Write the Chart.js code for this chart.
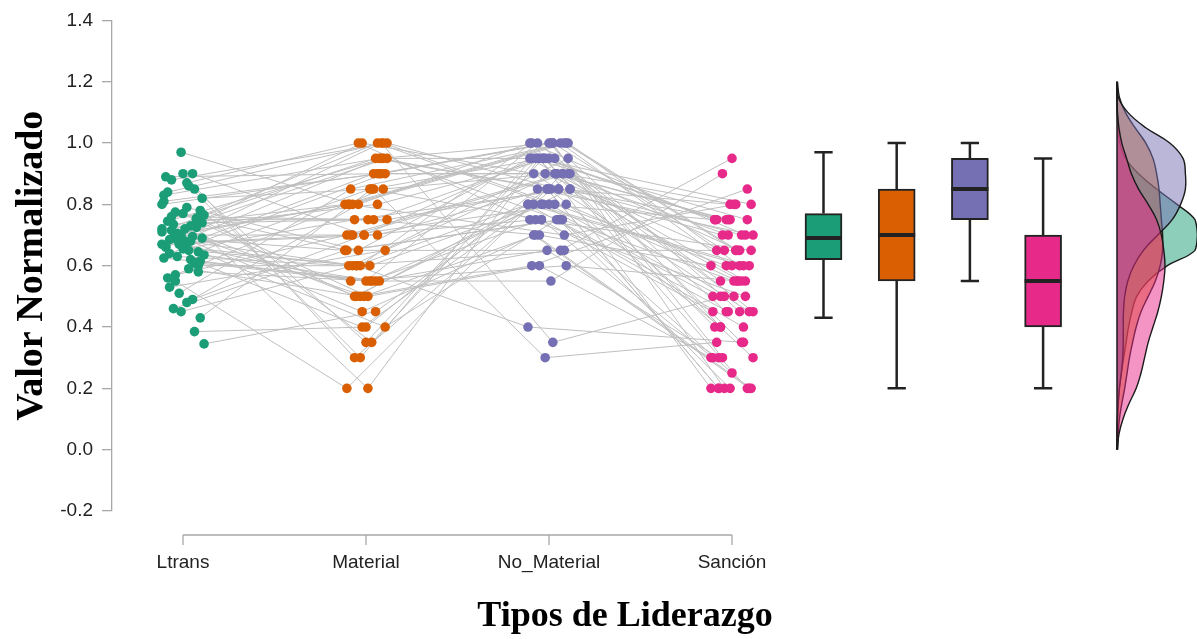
<!DOCTYPE html>
<html>
<head>
<meta charset="utf-8">
<title>Tipos de Liderazgo</title>
<script src="https://cdn.jsdelivr.net/npm/chart.js@4.4.1/dist/chart.umd.min.js"></script>
<style>
  html, body { margin: 0; padding: 0; background: #fff; }
  #wrap { width: 1197px; height: 639px; }
</style>
</head>
<body>
<div id="wrap"><canvas id="chart" width="1197" height="639"></canvas></div>
<script>
// ─── Data ───────────────────────────────────────────────────────────────
const categories = ['Ltrans', 'Material', 'No_Material', 'Sanción'];
const colors = ['#1b9e77', '#d95f02', '#7570b3', '#e7298a'];
const yTicks = [-0.2, 0.0, 0.2, 0.4, 0.6, 0.8, 1.0, 1.2, 1.4];

// one value per person, same order in every list (lines join them)
const ltrans = [
    0.72, 0.65, 0.88, 0.58, 0.70, 0.81, 0.62, 0.69, 0.43, 0.77,
    0.66, 0.90, 0.55, 0.74, 0.68, 0.84, 0.61, 0.705, 0.345, 0.79,
    0.64, 0.755, 0.51, 0.67, 0.86, 0.715, 0.60, 0.97, 0.625, 0.73,
    0.46, 0.78, 0.655, 0.89, 0.695, 0.57, 0.82, 0.66, 0.745, 0.385,
    0.70, 0.635, 0.87, 0.53, 0.725, 0.675, 0.80, 0.59, 0.76, 0.645,
    0.45, 0.83, 0.68, 0.735, 0.615, 0.90, 0.665, 0.49, 0.775, 0.69,
    0.72, 0.56, 0.85, 0.63, 0.765, 0.48, 0.685, 0.75, 0.67, 0.71
];
const material = [
    0.80, 0.60, 1.00, 0.55, 0.70, 0.90, 0.40, 0.65, 0.85, 0.50,
    0.95, 0.70, 0.20, 0.75, 0.60, 1.00, 0.55, 0.80, 0.45, 0.65,
    0.90, 0.50, 0.85, 0.70, 0.30, 0.95, 0.60, 0.80, 0.55, 1.00,
    0.65, 0.35, 0.75, 0.90, 0.50, 0.70, 0.85, 0.60, 0.95, 0.40,
    0.80, 0.55, 1.00, 0.65, 0.20, 0.70, 0.90, 0.50, 0.75, 0.85,
    0.60, 0.95, 0.45, 0.80, 0.55, 0.30, 1.00, 0.70, 0.65, 0.90,
    0.50, 0.85, 0.35, 0.60, 0.95, 0.80, 0.40, 0.75, 0.55, 1.00
];
const noMaterial = [
    0.95, 1.00, 0.85, 0.75, 0.90, 1.00, 0.80, 0.65, 0.95, 0.85,
    1.00, 0.75, 0.90, 0.95, 0.40, 0.80, 1.00, 0.70, 0.85, 0.95,
    0.90, 0.60, 1.00, 0.85, 0.95, 0.75, 0.80, 1.00, 0.55, 0.90,
    0.75, 0.95, 0.85, 1.00, 0.70, 0.90, 0.30, 0.80, 0.95, 0.85,
    1.00, 0.65, 0.75, 0.90, 0.95, 0.80, 1.00, 0.60, 0.85, 0.75,
    0.95, 0.85, 0.70, 1.00, 0.80, 0.90, 0.35, 0.95, 0.75, 0.90,
    0.80, 0.90, 0.95, 0.65, 0.85, 1.00, 0.75, 0.70, 0.60, 0.80
];
const sancion = [
    0.55, 0.20, 0.75, 0.45, 0.65, 0.30, 0.60, 0.95, 0.40, 0.70,
    0.20, 0.65, 0.50, 0.75, 0.35, 0.60, 0.45, 0.80, 0.20, 0.55,
    0.70, 0.30, 0.65, 0.40, 0.75, 0.20, 0.50, 0.60, 0.90, 0.45,
    0.25, 0.75, 0.55, 0.65, 0.20, 0.80, 0.35, 0.60, 0.45, 0.70,
    0.65, 0.30, 0.50, 0.75, 0.20, 0.55, 0.40, 0.85, 0.80, 0.30,
    0.45, 0.70, 0.20, 0.60, 0.75, 0.35, 0.50, 0.80, 0.55, 0.65,
    0.40, 0.75, 0.30, 0.65, 0.20, 0.70, 0.45, 0.60, 0.55, 0.50
];

// box plots (whisker ends, quartiles, median)
const boxLow = [0.43, 0.20, 0.55, 0.20];
const boxQ1 = [0.62, 0.55, 0.75, 0.40];
const boxMedian = [0.69, 0.70, 0.85, 0.55];
const boxQ3 = [0.77, 0.85, 0.95, 0.70];
const boxHigh = [0.97, 1.00, 1.00, 0.95];

// density ridges on the right, sampled on densGrid
const densGrid = [0.00, 0.05, 0.10, 0.15, 0.20, 0.25, 0.30, 0.35, 0.40, 0.45, 0.50, 0.55, 0.60,
                  0.65, 0.70, 0.75, 0.80, 0.85, 0.90, 0.95, 1.00, 1.05, 1.10, 1.15, 1.20];
const densLtrans = [0.00, 0.01, 0.02, 0.05, 0.10, 0.18, 0.28, 0.38, 0.48, 0.62, 0.82, 1.30, 2.10,
                    3.25, 3.35, 3.25, 2.50, 1.65, 0.90, 0.35, 0.12, 0.04, 0.01, 0.00, 0.00];
const densMaterial = [0.02, 0.05, 0.10, 0.20, 0.32, 0.42, 0.52, 0.65, 0.80, 1.00, 1.30, 1.60, 1.80,
                      1.90, 1.90, 1.85, 1.80, 1.75, 1.65, 1.50, 1.20, 0.75, 0.35, 0.10, 0.02];
const densNoMaterial = [0.00, 0.00, 0.02, 0.05, 0.10, 0.18, 0.24, 0.26, 0.26, 0.27, 0.32, 0.45, 0.70,
                        1.10, 1.70, 2.30, 2.65, 2.85, 2.85, 2.75, 2.20, 1.20, 0.45, 0.05, 0.00];
const densSancion = [0.02, 0.08, 0.25, 0.50, 0.80, 1.00, 1.15, 1.30, 1.50, 1.70, 1.85, 1.95, 2.00,
                     1.95, 1.85, 1.65, 1.30, 0.90, 0.60, 0.40, 0.20, 0.08, 0.02, 0.00, 0.00];

// ─── Layout ─────────────────────────────────────────────────────────────
const X_MIN = 0.612, X_MAX = 6.541;       // categories sit at 1..4
const BOX_POS = [4.5, 4.9, 5.3, 5.7];
const BOX_HALF = 0.101, CAP_HALF = 0.05, JITTER = 0.23;
const AREA_LEFT = 112, AREA_RIGHT = 1197, DENS_BASE = 1117, DENS_PX = 24;

const series = [ltrans, material, noMaterial, sancion];
const densities = [densLtrans, densMaterial, densNoMaterial, densSancion];

// fixed horizontal spread of the dots around each category
const jx = series.map((vals, j) =>
    vals.map((v, i) => j + 1 + (((i * 37 + j * 17) % 23) / 22 - 0.5) * JITTER));

const pairLines = [];
ltrans.forEach((_, i) => {
    series.forEach((vals, j) => pairLines.push({ x: jx[j][i], y: vals[i] }));
    pairLines.push({ x: 1, y: null });
});

const whiskers = [];
const medians = [];
BOX_POS.forEach((bx, i) => {
    whiskers.push({ x: bx, y: boxQ3[i] }, { x: bx, y: boxHigh[i] }, { x: bx, y: null });
    whiskers.push({ x: bx, y: boxQ1[i] }, { x: bx, y: boxLow[i] }, { x: bx, y: null });
    whiskers.push({ x: bx - CAP_HALF, y: boxHigh[i] }, { x: bx + CAP_HALF, y: boxHigh[i] }, { x: bx, y: null });
    whiskers.push({ x: bx - CAP_HALF, y: boxLow[i] }, { x: bx + CAP_HALF, y: boxLow[i] }, { x: bx, y: null });
    medians.push({ x: bx - BOX_HALF, y: boxMedian[i] }, { x: bx + BOX_HALF, y: boxMedian[i] }, { x: bx, y: null });
});

function alpha(hex, a) {
    const n = parseInt(hex.slice(1), 16);
    return `rgba(${n >> 16}, ${(n >> 8) & 255}, ${n & 255}, ${a})`;
}

const datasets = [];

datasets.push({
    type: 'line', data: pairLines, borderColor: '#bfbfbf', borderWidth: 1,
    pointRadius: 0, spanGaps: false, tension: 0, order: 20
});

series.forEach((vals, j) => {
    datasets.push({
        type: 'scatter', data: vals.map((v, i) => ({ x: jx[j][i], y: v })),
        backgroundColor: colors[j], borderWidth: 0, pointRadius: 4.8, order: 10
    });
});

datasets.push({
    type: 'line', data: whiskers, borderColor: '#222', borderWidth: 2.5,
    pointRadius: 0, spanGaps: false, order: 9
});

datasets.push({
    type: 'bar', data: BOX_POS.map((bx, i) => ({ x: bx, y: [boxQ1[i], boxQ3[i]] })),
    backgroundColor: colors, borderColor: '#222', borderWidth: 2, borderSkipped: false,
    barThickness: 37, grouped: false, order: 8
});

datasets.push({
    type: 'line', data: medians, borderColor: '#222', borderWidth: 4,
    pointRadius: 0, spanGaps: false, order: 7
});

densities.forEach((d, j) => {
    datasets.push({
        type: 'line', indexAxis: 'y', xAxisID: 'xd',
        data: densGrid.map((v, k) => ({ x: d[k], y: v })),
        borderColor: '#1a1a1a', borderWidth: 1.4, backgroundColor: alpha(colors[j], 0.5),
        fill: { value: 0 }, tension: 0.4, pointRadius: 0, order: 6 - j
    });
});

datasets.push({
    type: 'line', xAxisID: 'xd',
    data: [{ x: 0, y: densGrid[0] }, { x: 0, y: densGrid[densGrid.length - 1] }],
    borderColor: '#1a1a1a', borderWidth: 1.5, pointRadius: 0, order: 1
});

// R-style x axis: only from first to last category, set below the plot
const rAxis = {
    id: 'rAxis',
    afterDraw(chart) {
        const { ctx, scales: { x, y } } = chart;
        const yAx = y.bottom + 24;
        ctx.save();
        ctx.strokeStyle = '#a8a8a8';
        ctx.lineWidth = 1.3;
        ctx.beginPath();
        ctx.moveTo(x.getPixelForValue(1), yAx);
        ctx.lineTo(x.getPixelForValue(categories.length), yAx);
        categories.forEach((c, i) => {
            const px = x.getPixelForValue(i + 1);
            ctx.moveTo(px, yAx);
            ctx.lineTo(px, yAx + 10);
        });
        ctx.stroke();
        ctx.fillStyle = '#000';
        ctx.font = 'bold 36px "Liberation Serif"';
        ctx.textAlign = 'center';
        ctx.fillText('Tipos de Liderazgo', 625, 626);
        ctx.restore();
    }
};

const tickFont = { family: 'Liberation Sans', size: 19 };

new Chart(document.getElementById('chart'), {
    type: 'line',
    data: { datasets },
    plugins: [rAxis],
    options: {
        responsive: false,
        animation: false,
        events: [],
        layout: { autoPadding: false, padding: { top: 20, left: 0, right: 0, bottom: 0 } },
        plugins: { legend: { display: false }, tooltip: { enabled: false } },
        scales: {
            x: {
                type: 'linear', min: X_MIN, max: X_MAX, offset: false,
                afterBuildTicks: s => { s.ticks = categories.map((c, i) => ({ value: i + 1 })); },
                afterFit: s => { s.height = 128; },
                grid: { display: false, drawTicks: false, offset: false },
                border: { display: false },
                ticks: {
                    callback: (v, i) => categories[i], font: tickFont, color: '#222',
                    padding: 40, maxRotation: 0, autoSkip: false
                }
            },
            xd: {
                type: 'linear', display: false,
                min: -(DENS_BASE - AREA_LEFT) / DENS_PX, max: (AREA_RIGHT - DENS_BASE) / DENS_PX
            },
            y: {
                type: 'linear', min: -0.2, max: 1.4,
                afterBuildTicks: s => { s.ticks = yTicks.map(v => ({ value: v })); },
                afterFit: s => { s.width = AREA_LEFT; },
                grid: { drawOnChartArea: false, drawTicks: true, tickLength: 10, color: '#a8a8a8', lineWidth: 1.3 },
                border: { display: true, color: '#a8a8a8', width: 1.3 },
                ticks: { callback: v => v.toFixed(1), font: tickFont, color: '#222', padding: 9 },
                title: {
                    display: true, text: 'Valor Normalizado', color: '#000',
                    font: { family: 'Liberation Serif', size: 38, weight: 'bold' },
                    padding: { top: 9, bottom: 0 }
                }
            }
        }
    }
});
</script>
</body>
</html>
